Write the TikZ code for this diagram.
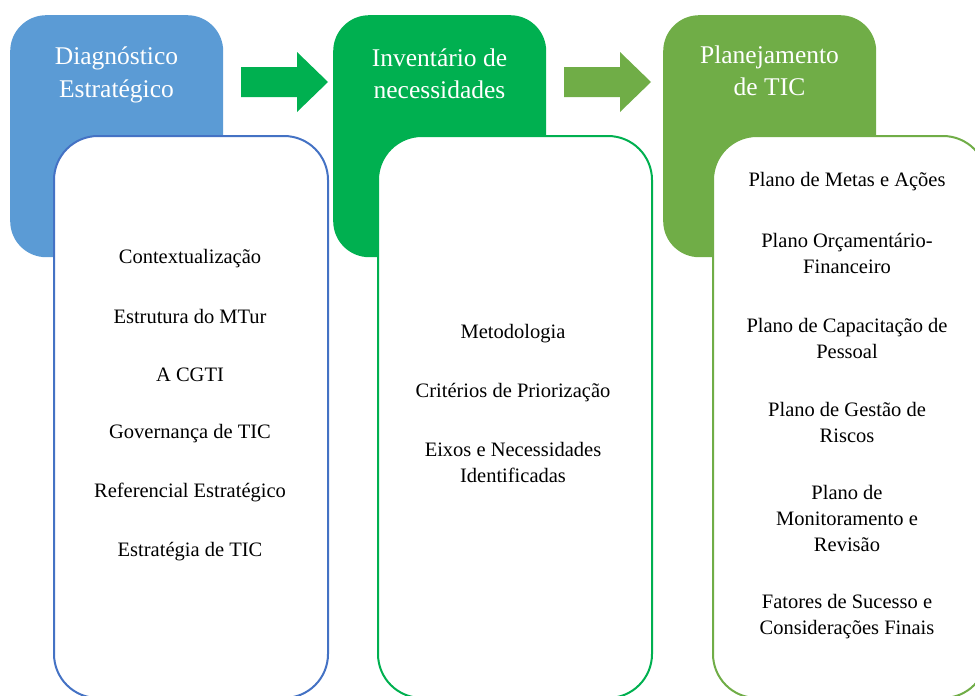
\documentclass[tikz,border=0pt]{standalone}
\usepackage{fontspec}
\setmainfont{Liberation Serif}
\begin{document}
\begin{tikzpicture}[x=1pt,y=-1pt]
\definecolor{blueA}{HTML}{5B9BD5}
\definecolor{blueB}{HTML}{4472C4}
\definecolor{greenA}{HTML}{00B050}
\definecolor{greenB}{HTML}{70AD47}
\tikzset{
  headbox/.style={rectangle, rounded corners=36pt, anchor=north west, inner sep=0pt,
    minimum width=213pt, minimum height=242pt},
  listbox/.style={rectangle, rounded corners=44pt, anchor=north west, inner sep=0pt,
    fill=white, line width=2pt, minimum width=274pt, minimum height=562pt},
  headtxt/.style={text=white, align=center, inner sep=0pt,
    font=\fontsize{25.5}{32.5}\selectfont},
  itemtxt/.style={text=black, align=center, inner sep=0pt,
    font=\fontsize{20.5}{26}\selectfont}
}
\useasboundingbox (0,0) rectangle (975,696);
% column boxes
\node[headbox, fill=blueA] (h1) at (10,15) {};
\node[listbox, draw=blueB] (l1) at (53,135) {};
\node[headbox, fill=greenA] (h2) at (333,15) {};
\node[listbox, draw=greenA] (l2) at (377,135) {};
\node[headbox, fill=greenB] (h3) at (663,15) {};
\node[listbox, draw=greenB] (l3) at (712,135) {};
% block arrows
\coordinate (a1s) at (241,82);
\coordinate (a2s) at (564,82);
\fill[greenA] (a1s) ++(0,-15) -- ++(56,0) -- ++(0,-15) -- ++(31,30) -- ++(-31,30) -- ++(0,-15) -- ++(-56,0) -- cycle;
\fill[greenB] (a2s) ++(0,-15) -- ++(56,0) -- ++(0,-15) -- ++(31,30) -- ++(-31,30) -- ++(0,-15) -- ++(-56,0) -- cycle;
% headings
\node[headtxt] (t1) at (116.5,75) {Diagnóstico\\Estratégico};
\node[headtxt] (t2) at (439.5,74) {Inventário de\\necessidades};
\node[headtxt] (t3) at (769.5,71) {Planejamento\\de TIC};
% column 1 items
\node[itemtxt] (c1a) at (190,258.5) {Contextualização};
\node[itemtxt] (c1b) at (190,316.5) {Estrutura do MTur};
\node[itemtxt] (c1c) at (190,374.5) {A CGTI};
\node[itemtxt] (c1d) at (190,433.5) {Governança de TIC};
\node[itemtxt] (c1e) at (190,492.5) {Referencial Estratégico};
\node[itemtxt] (c1f) at (190,551.5) {Estratégia de TIC};
% column 2 items
\node[itemtxt] (c2a) at (513,333.5) {Metodologia};
\node[itemtxt] (c2b) at (513,392.5) {Critérios de Priorização};
\node[itemtxt] (c2c) at (513,462.5) {Eixos e Necessidades\\Identificadas};
% column 3 items
\node[itemtxt] (c3a) at (847,181.5) {Plano de Metas e Ações};
\node[itemtxt] (c3b) at (847,253.5) {Plano Orçamentário-\\Financeiro};
\node[itemtxt] (c3c) at (847,338.5) {Plano de Capacitação de\\Pessoal};
\node[itemtxt] (c3d) at (847,422.5) {Plano de Gestão de\\Riscos};
\node[itemtxt] (c3e) at (847,518.5) {Plano de\\Monitoramento e\\Revisão};
\node[itemtxt] (c3f) at (847,616.5) {Fatores de Sucesso e\\Considerações Finais};
\end{tikzpicture}
\end{document}
